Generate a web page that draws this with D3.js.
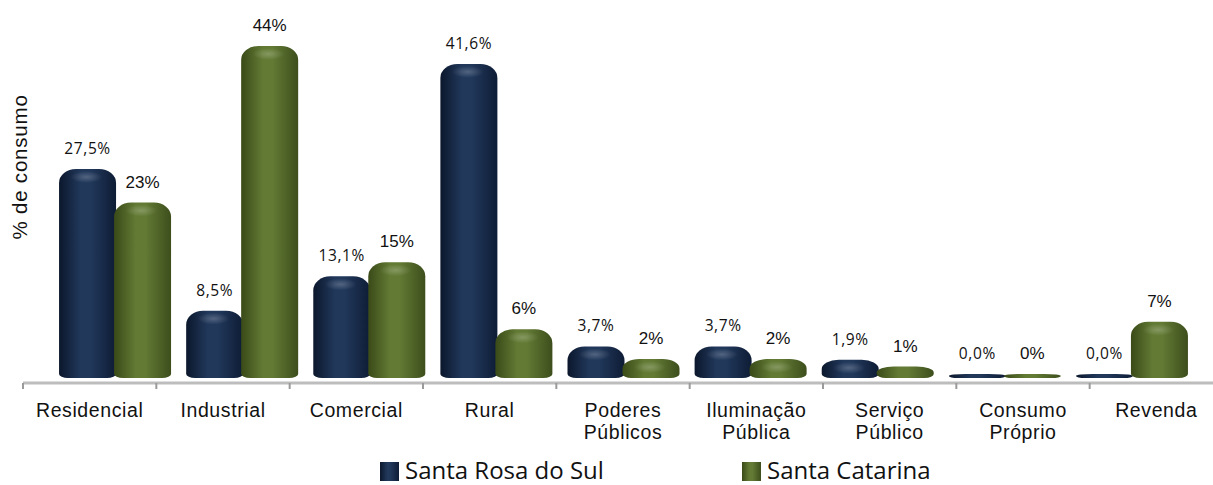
<!DOCTYPE html>
<html>
<head>
<meta charset="utf-8">
<script src="https://cdn.jsdelivr.net/npm/d3@7"></script>
<style>
  html, body { margin: 0; padding: 0; background: #fff; }
  svg { display: block; }
</style>
</head>
<body>
<svg id="chart" width="1213" height="485"></svg>
<script>
// Consumption share by class: municipality vs. state
const categories = [
  ["Residencial"], ["Industrial"], ["Comercial"], ["Rural"],
  ["Poderes", "Públicos"], ["Iluminação", "Pública"], ["Serviço", "Público"],
  ["Consumo", "Próprio"], ["Revenda"]
];
const santaRosa = [27.5, 8.5, 13.1, 41.6, 3.7, 3.7, 1.9, 0.0, 0.0];
const santaCatarina = [23, 44, 15, 6, 2, 2, 1, 0, 7];
const santaRosaLabels = ["27,5%", "8,5%", "13,1%", "41,6%", "3,7%", "3,7%", "1,9%", "0,0%", "0,0%"];
const santaCatarinaLabels = ["23%", "44%", "15%", "6%", "2%", "2%", "1%", "0%", "7%"];
const seriesNames = ["Santa Rosa do Sul", "Santa Catarina"];

const svg = d3.select("#chart");
const defs = svg.append("defs");

// cylinder-like shading for each series
function cylinderGradient(id, edgeL, mid, edgeR) {
  const g = defs.append("linearGradient").attr("id", id)
    .attr("x1", "0%").attr("x2", "100%").attr("y1", "0%").attr("y2", "0%");
  g.append("stop").attr("offset", "0%").attr("stop-color", edgeL);
  g.append("stop").attr("offset", "38%").attr("stop-color", mid);
  g.append("stop").attr("offset", "55%").attr("stop-color", mid);
  g.append("stop").attr("offset", "100%").attr("stop-color", edgeR);
}
cylinderGradient("gBlue", "#0b172c", "#21385b", "#0e1c35");
cylinderGradient("gGreen", "#3a4a18", "#627a34", "#3d4e1c");

const hl = defs.append("radialGradient").attr("id", "gHi")
  .attr("cx", "50%").attr("cy", "50%").attr("r", "50%");
hl.append("stop").attr("offset", "0%").attr("stop-color", "#ffffff").attr("stop-opacity", 0.22);
hl.append("stop").attr("offset", "100%").attr("stop-color", "#ffffff").attr("stop-opacity", 0);

// axis bands (labels and ticks)
const xAxisScale = d3.scaleBand().domain(d3.range(categories.length)).range([23, 1223]);
// bar pairs sit on the slightly narrower back plane
const xBars = d3.scaleBand().domain(d3.range(categories.length)).range([52.5, 1196.5]);
const y = d3.scaleLinear().domain([0, 44]).range([374, 46]);
const barBottom = 378;
const barW = 57;

// axis line and ticks
const axisY = 383;
const axis = d3.axisBottom(xAxisScale).tickSize(0).tickFormat("");
const axisG = svg.append("g").attr("transform", `translate(0,${axisY})`).call(axis);
axisG.select(".domain").attr("stroke", "#bdbdbd").attr("stroke-width", 3)
  .attr("d", `M23,0H1213`);
svg.append("g").selectAll("line")
  .data(d3.range(categories.length))
  .join("line")
  .attr("x1", i => xAxisScale(i)).attr("x2", i => xAxisScale(i))
  .attr("y1", axisY).attr("y2", axisY + 6)
  .attr("stroke", "#9a9a9a").attr("stroke-width", 2);

// rounded cylinder outline
function barPath(x0, w, top, bottom) {
  const h = bottom - top;
  const rt = Math.min(14, h / 2), rxT = Math.min(17, w / 2);
  const rb = Math.min(4, h / 2), rxB = Math.min(9, w / 2);
  return `M${x0},${bottom - rb}` +
    `V${top + rt}` +
    `A${rxT},${rt} 0 0 1 ${x0 + rxT},${top}` +
    `H${x0 + w - rxT}` +
    `A${rxT},${rt} 0 0 1 ${x0 + w},${top + rt}` +
    `V${bottom - rb}` +
    `A${rxB},${rb} 0 0 1 ${x0 + w - rxB},${bottom}` +
    `H${x0 + rxB}` +
    `A${rxB},${rb} 0 0 1 ${x0},${bottom - rb}Z`;
}

const series = [
  { vals: santaRosa, labels: santaRosaLabels, fill: "url(#gBlue)", dx: -barW, font: "'Open Sans', sans-serif", size: 15.5, ls: 0.6 },
  { vals: santaCatarina, labels: santaCatarinaLabels, fill: "url(#gGreen)", dx: -2, font: "'Liberation Sans', Arial, sans-serif", size: 17, ls: 0 }
];

series.forEach(s => {
  const g = svg.append("g");
  const rows = s.vals.map((v, i) => ({ v, i, label: s.labels[i] }));
  const bx = d => xBars(d.i) + xBars.bandwidth() / 2 + s.dx;
  g.selectAll("path.bar").data(rows).join("path")
    .attr("class", "bar")
    .attr("d", d => barPath(bx(d), barW, y(d.v), barBottom))
    .attr("fill", s.fill);
  // soft highlight near the top of each cylinder
  g.selectAll("ellipse.hi").data(rows.filter(d => barBottom - y(d.v) > 12)).join("ellipse")
    .attr("class", "hi")
    .attr("cx", d => bx(d) + barW * 0.48)
    .attr("cy", d => y(d.v) + 8)
    .attr("rx", 16).attr("ry", 6)
    .attr("fill", "url(#gHi)");
  g.selectAll("text").data(rows).join("text")
    .attr("x", d => bx(d) + barW / 2)
    .attr("y", d => y(d.v) - 15)
    .attr("text-anchor", "middle")
    .attr("font-family", s.font)
    .attr("font-size", s.size)
    .attr("letter-spacing", s.ls)
    .attr("fill", "#111")
    .text(d => d.label);
});

// category labels
const catG = svg.append("g");
categories.forEach((lines, i) => {
  const t = catG.append("text")
    .attr("x", xAxisScale(i) + xAxisScale.bandwidth() / 2)
    .attr("y", 417)
    .attr("text-anchor", "middle")
    .attr("font-family", "'Liberation Sans', Arial, sans-serif")
    .attr("font-size", 19.5)
    .attr("letter-spacing", 0.6)
    .attr("fill", "#111");
  lines.forEach((ln, k) => {
    t.append("tspan")
      .attr("x", xAxisScale(i) + xAxisScale.bandwidth() / 2)
      .attr("dy", k === 0 ? 0 : 21.5)
      .text(ln);
  });
});

// y axis title
svg.append("text")
  .attr("transform", "translate(27,167) rotate(-90)")
  .attr("text-anchor", "middle")
  .attr("font-family", "'Liberation Sans', Arial, sans-serif")
  .attr("font-size", 20.5)
  .attr("letter-spacing", 0.8)
  .attr("fill", "#111")
  .text("% de consumo");

// legend
const legendItems = [
  { name: seriesNames[0], fill: "url(#gBlue)", x: 380 },
  { name: seriesNames[1], fill: "url(#gGreen)", x: 742 }
];
const lg = svg.append("g");
legendItems.forEach(it => {
  lg.append("rect").attr("x", it.x).attr("y", 462).attr("width", 19).attr("height", 19)
    .attr("fill", it.fill);
  lg.append("text").attr("x", it.x + 25).attr("y", 479)
    .attr("font-family", "'Open Sans', sans-serif")
    .attr("font-size", 24)
    .attr("fill", "#111")
    .text(it.name);
});
</script>
</body>
</html>
